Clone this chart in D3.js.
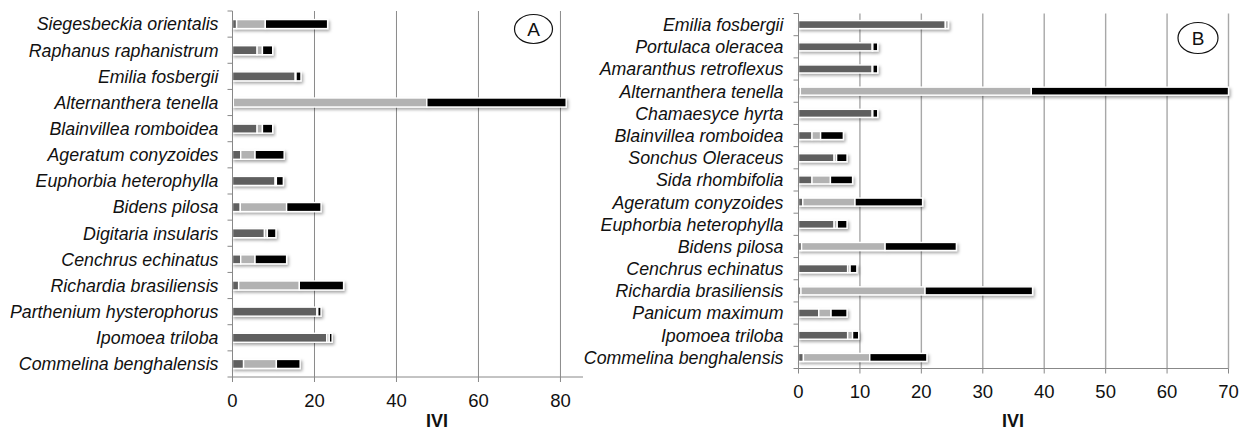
<!DOCTYPE html>
<html>
<head>
<meta charset="utf-8">
<script src="https://cdn.jsdelivr.net/npm/d3@7"></script>
<style>
  html, body { margin: 0; padding: 0; background: #fff; }
  svg { display: block; }
  text { font-family: "Liberation Sans", Arial, sans-serif; fill: #111; }
</style>
</head>
<body>
<svg id="chart" width="1252" height="437"></svg>
<script>
// ---------- Data: Panel A ----------
const categoriesA = [
  "Siegesbeckia orientalis", "Raphanus raphanistrum", "Emilia fosbergii",
  "Alternanthera tenella", "Blainvillea romboidea", "Ageratum conyzoides",
  "Euphorbia heterophylla", "Bidens pilosa", "Digitaria insularis",
  "Cenchrus echinatus", "Richardia brasiliensis", "Parthenium hysterophorus",
  "Ipomoea triloba", "Commelina benghalensis"
];
const darkA  = [1.0, 6.0, 15.3, 0.2, 6.0, 2.0, 10.4, 1.9, 7.8, 2.0, 1.5, 20.6, 23.0, 2.7];
const lightA = [7.0, 1.3, 0.2, 47.2, 1.3, 3.5, 0.3, 11.3, 0.7, 3.5, 14.8, 0.2, 0.6, 8.0];
const blackA = [15.2, 2.5, 1.2, 34.0, 2.5, 7.1, 1.7, 8.4, 2.1, 7.7, 10.8, 0.8, 0.7, 5.8];
const ticksA = [0, 20, 40, 60, 80];

// ---------- Data: Panel B ----------
const categoriesB = [
  "Emilia fosbergii", "Portulaca oleracea", "Amaranthus retroflexus",
  "Alternanthera tenella", "Chamaesyce hyrta", "Blainvillea romboidea",
  "Sonchus Oleraceus", "Sida rhombifolia", "Ageratum conyzoides",
  "Euphorbia heterophylla", "Bidens pilosa", "Cenchrus echinatus",
  "Richardia brasiliensis", "Panicum maximum", "Ipomoea triloba",
  "Commelina benghalensis"
];
const darkB  = [23.9, 12.0, 12.0, 0.3, 12.0, 2.2, 5.8, 2.2, 0.7, 5.8, 0.5, 8.0, 0.4, 3.3, 8.0, 0.8];
const lightB = [0.5, 0.1, 0.1, 37.6, 0.1, 1.4, 0.4, 3.0, 8.5, 0.5, 13.6, 0.4, 20.2, 2.0, 0.8, 10.8];
const blackB = [0.0, 0.8, 0.8, 32.1, 0.8, 3.7, 1.7, 3.6, 11.0, 1.6, 11.6, 1.1, 17.5, 2.6, 1.0, 9.3];
const ticksB = [0, 10, 20, 30, 40, 50, 60, 70];

const seriesColors = ["#5e5e5e", "#b2b2b2", "#000000"];
const axisTitle = "IVI";

const svg = d3.select("#chart");

const defs = svg.append("defs");
const f = defs.append("filter").attr("id", "shadow")
  .attr("x", "-5%").attr("y", "-60%").attr("width", "115%").attr("height", "260%");
f.append("feDropShadow").attr("dx", 1.5).attr("dy", 2).attr("stdDeviation", 1.4)
  .attr("flood-color", "#000").attr("flood-opacity", 0.35);

function panel(cfg) {
  const x = d3.scaleLinear().domain(cfg.domain).range(cfg.xr);
  const y = d3.scaleBand().domain(cfg.cats).range(cfg.yr).padding(0);
  const g = svg.append("g");

  // gridlines
  g.append("g").selectAll("line").data(cfg.ticks.filter(t => t > 0)).join("line")
    .attr("x1", d => x(d)).attr("x2", d => x(d))
    .attr("y1", cfg.yr[0]).attr("y2", cfg.yr[1])
    .attr("stroke", cfg.gridColor).attr("stroke-width", cfg.gridWidth);

  // bars
  const stackData = cfg.cats.map((c, i) => ({ cat: c, v: [cfg.dark[i], cfg.light[i], cfg.black[i]] }));
  const bh = cfg.barH;
  const barG = g.append("g").selectAll("g").data(stackData).join("g")
    .attr("filter", "url(#shadow)");
  barG.each(function(d) {
    let acc = 0;
    const segs = d.v.map((v, k) => { const s = { x0: acc, x1: acc + v, k }; acc += v; return s; })
      .filter(s => s.x1 - s.x0 > 0);
    d3.select(this).selectAll("rect").data(segs).join("rect")
      .attr("x", s => x(s.x0))
      .attr("width", s => Math.max(0.6, x(s.x1) - x(s.x0)))
      .attr("y", y(d.cat) + y.bandwidth() / 2 - bh / 2)
      .attr("height", bh)
      .attr("fill", s => seriesColors[s.k])
      .attr("stroke", "#fff").attr("stroke-width", 1.4);
  });

  // y axis
  const yAxis = g.append("g").attr("transform", `translate(${cfg.xr[0]},0)`);
  yAxis.append("line").attr("x1", 0).attr("x2", 0).attr("y1", cfg.yr[0]).attr("y2", cfg.yr[1])
    .attr("stroke", "#888").attr("stroke-width", 1);
  const bounds = d3.range(cfg.cats.length + 1).map(i => cfg.yr[0] + i * y.step());
  yAxis.selectAll("line.tk").data(bounds).join("line").attr("class", "tk")
    .attr("x1", -5).attr("x2", 0).attr("y1", d => d).attr("y2", d => d)
    .attr("stroke", "#888");
  yAxis.selectAll("text").data(cfg.cats).join("text")
    .attr("x", -cfg.labelGap).attr("y", d => y(d) + y.bandwidth() / 2)
    .attr("dy", "0.36em").attr("text-anchor", "end")
    .attr("font-style", "italic").attr("font-size", cfg.labelSize)
    .text(d => d);

  // x axis
  const xAxis = g.append("g");
  xAxis.append("line").attr("x1", cfg.xr[0]).attr("x2", cfg.xr[1])
    .attr("y1", cfg.yr[1]).attr("y2", cfg.yr[1])
    .attr("stroke", "#888");
  xAxis.selectAll("line.tk").data(cfg.ticks).join("line").attr("class", "tk")
    .attr("x1", d => x(d)).attr("x2", d => x(d))
    .attr("y1", cfg.yr[1]).attr("y2", cfg.yr[1] + 5)
    .attr("stroke", "#888");
  xAxis.selectAll("text").data(cfg.ticks).join("text")
    .attr("x", d => x(d)).attr("y", cfg.tickBase)
    .attr("text-anchor", "middle").attr("font-size", 18.5)
    .text(d => d);
  g.append("text").attr("x", cfg.titleX).attr("y", cfg.titleY)
    .attr("text-anchor", "middle").attr("font-weight", "bold").attr("font-size", 18)
    .text(axisTitle);

  // panel letter
  g.append("ellipse").attr("cx", cfg.letter.cx).attr("cy", cfg.letter.cy)
    .attr("rx", cfg.letter.rx).attr("ry", cfg.letter.ry)
    .attr("fill", "#fff").attr("stroke", "#111").attr("stroke-width", 1.2);
  g.append("text").attr("x", cfg.letter.cx).attr("y", cfg.letter.cy)
    .attr("dy", "0.36em").attr("text-anchor", "middle").attr("font-size", 19)
    .text(cfg.letter.t);
}

panel({
  cats: categoriesA, dark: darkA, light: lightA, black: blackA, ticks: ticksA,
  domain: [0, 85.5], xr: [232.5, 583], yr: [11, 377],
  barH: 9, labelGap: 14, labelSize: 17.8, gridColor: "#8a8a8a", gridWidth: 1,
  tickBase: 407, titleX: 437, titleY: 427,
  letter: { cx: 533.5, cy: 29, rx: 19, ry: 14.5, t: "A" }
});

panel({
  cats: categoriesB, dark: darkB, light: lightB, black: blackB, ticks: ticksB,
  domain: [0, 70], xr: [798.5, 1228.5], yr: [13.5, 368.5],
  barH: 8, labelGap: 15, labelSize: 17.8, gridColor: "#a8a8a8", gridWidth: 1.4,
  tickBase: 398, titleX: 1013, titleY: 427,
  letter: { cx: 1198, cy: 38, rx: 20, ry: 15.5, t: "B" }
});
</script>
</body>
</html>
